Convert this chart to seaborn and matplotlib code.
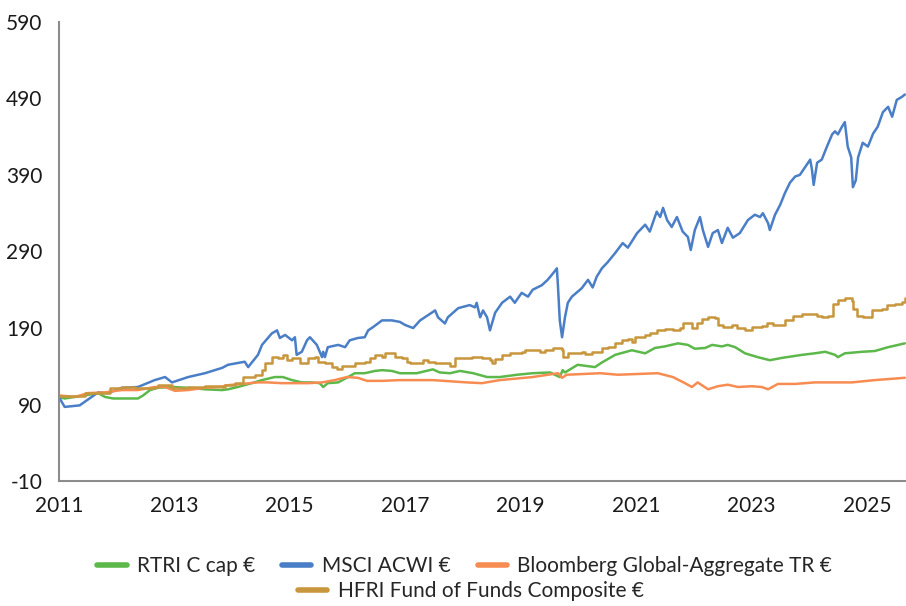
import seaborn as sns
import matplotlib.pyplot as plt
from matplotlib.lines import Line2D
import pandas as pd

# Lectura aproximada de la imagen (año decimal, valor base 100)
msci_x = [2011.00, 2011.10, 2011.36, 2011.68, 2011.85, 2012.09, 2012.37, 2012.66, 2012.84, 2012.96,
          2013.24, 2013.53, 2013.83, 2013.93, 2014.22, 2014.28, 2014.45, 2014.52, 2014.69, 2014.78,
          2014.83, 2014.92, 2015.04, 2015.09, 2015.12, 2015.21, 2015.30, 2015.35, 2015.47, 2015.56,
          2015.58, 2015.61, 2015.66, 2015.84, 2015.96, 2016.04, 2016.18, 2016.30, 2016.36, 2016.44,
          2016.60, 2016.77, 2016.91, 2017.00, 2017.14, 2017.26, 2017.40, 2017.52, 2017.57, 2017.69,
          2017.74, 2017.92, 2018.12, 2018.21, 2018.24, 2018.30, 2018.35, 2018.42, 2018.47, 2018.56,
          2018.68, 2018.82, 2018.90, 2019.02, 2019.13, 2019.21, 2019.37, 2019.47, 2019.58, 2019.63,
          2019.65, 2019.68, 2019.72, 2019.77, 2019.82, 2019.89, 2020.06, 2020.17, 2020.25, 2020.32,
          2020.41, 2020.51, 2020.64, 2020.77, 2020.86, 2021.02, 2021.16, 2021.24, 2021.36, 2021.42,
          2021.47, 2021.54, 2021.62, 2021.71, 2021.81, 2021.90, 2021.95, 2022.02, 2022.11, 2022.16,
          2022.25, 2022.33, 2022.42, 2022.49, 2022.59, 2022.68, 2022.80, 2022.94, 2023.06, 2023.15,
          2023.20, 2023.29, 2023.32, 2023.41, 2023.50, 2023.58, 2023.67, 2023.76, 2023.84, 2023.93,
          2024.02, 2024.05, 2024.08, 2024.14, 2024.22, 2024.31, 2024.40, 2024.45, 2024.50, 2024.57,
          2024.62, 2024.67, 2024.73, 2024.76, 2024.81, 2024.85, 2024.93, 2025.02, 2025.11, 2025.19,
          2025.28, 2025.37, 2025.44, 2025.52, 2025.61, 2025.66]
msci_y = [100, 87, 89, 106, 105, 112, 113, 122, 126, 119,
          126, 131, 138, 142, 146, 139, 155, 168, 183, 187,
          177, 181, 174, 178, 155, 159, 174, 178, 168, 152,
          159, 152, 165, 168, 165, 174, 177, 178, 187, 191,
          200, 200, 198, 194, 190, 200, 207, 213, 204, 196,
          204, 216, 220, 217, 223, 204, 213, 204, 187, 210,
          223, 231, 223, 236, 231, 240, 246, 253, 263, 268,
          243, 200, 178, 204, 223, 231, 242, 253, 243, 257,
          268, 276, 288, 301, 295, 314, 325, 316, 342, 335,
          347, 331, 322, 335, 316, 309, 292, 318, 335, 318,
          296, 314, 318, 301, 321, 308, 314, 331, 338, 335,
          340, 327, 318, 338, 351, 366, 380, 388, 390, 400,
          410, 397, 377, 406, 410, 427, 443, 447, 443, 453,
          459, 427, 413, 374, 383, 413, 432, 427, 444, 453,
          472, 479, 466, 488, 492, 495]

hfri_x = [2011.00, 2011.45, 2011.88, 2012.09, 2012.32, 2012.66, 2012.72, 2012.96, 2013.24, 2013.53,
          2013.83, 2013.88, 2014.05, 2014.19, 2014.40, 2014.52, 2014.57, 2014.69, 2014.80, 2014.88,
          2014.95, 2015.04, 2015.18, 2015.32, 2015.44, 2015.49, 2015.61, 2015.73, 2015.82, 2015.90,
          2016.13, 2016.30, 2016.39, 2016.48, 2016.60, 2016.65, 2016.82, 2016.94, 2017.03, 2017.08,
          2017.31, 2017.40, 2017.52, 2017.78, 2017.86, 2018.16, 2018.33, 2018.47, 2018.50, 2018.56,
          2018.68, 2018.82, 2019.02, 2019.08, 2019.34, 2019.42, 2019.56, 2019.72, 2019.73, 2019.82,
          2020.06, 2020.12, 2020.24, 2020.41, 2020.51, 2020.64, 2020.76, 2020.86, 2020.93, 2020.98,
          2021.16, 2021.24, 2021.36, 2021.50, 2021.64, 2021.76, 2021.81, 2021.97, 2022.06, 2022.14,
          2022.25, 2022.37, 2022.42, 2022.51, 2022.66, 2022.75, 2022.89, 2023.01, 2023.18, 2023.27,
          2023.37, 2023.58, 2023.72, 2023.88, 2024.02, 2024.14, 2024.22, 2024.33, 2024.41, 2024.50,
          2024.62, 2024.74, 2024.76, 2024.83, 2024.93, 2025.02, 2025.09, 2025.26, 2025.35, 2025.49,
          2025.61, 2025.66]
hfri_y = [101, 105, 112, 113, 112, 113, 115, 112, 113, 114,
          113, 115, 118, 126, 129, 135, 144, 152, 151, 155,
          148, 151, 144, 151, 152, 146, 144, 139, 136, 141,
          144, 146, 151, 155, 152, 157, 152, 151, 146, 144,
          148, 146, 144, 141, 151, 152, 151, 148, 144, 150,
          155, 158, 159, 161, 159, 161, 164, 161, 152, 158,
          159, 156, 159, 164, 165, 170, 174, 176, 172, 178,
          181, 183, 187, 189, 187, 190, 197, 190, 197, 202,
          204, 203, 194, 191, 194, 190, 187, 191, 193, 197,
          194, 200, 206, 208, 209, 206, 204, 206, 222, 226,
          229, 225, 215, 206, 205, 204, 213, 215, 220, 221,
          224, 229]

rtri_x = [2011.00, 2011.10, 2011.45, 2011.68, 2011.80, 2011.94, 2012.37, 2012.46, 2012.58, 2012.72,
          2012.96, 2013.24, 2013.53, 2013.83, 2013.93, 2014.10, 2014.34, 2014.52, 2014.74, 2014.88,
          2015.04, 2015.21, 2015.38, 2015.52, 2015.58, 2015.66, 2015.84, 2016.01, 2016.13, 2016.30,
          2016.48, 2016.60, 2016.77, 2016.91, 2017.20, 2017.48, 2017.60, 2017.78, 2017.95, 2018.18,
          2018.42, 2018.64, 2018.94, 2019.21, 2019.51, 2019.68, 2019.73, 2019.77, 2019.99, 2020.29,
          2020.41, 2020.64, 2020.93, 2021.16, 2021.33, 2021.50, 2021.73, 2021.90, 2022.02, 2022.20,
          2022.32, 2022.49, 2022.59, 2022.72, 2022.89, 2023.11, 2023.32, 2023.53, 2023.88, 2024.10,
          2024.28, 2024.45, 2024.50, 2024.62, 2024.92, 2025.14, 2025.37, 2025.66]
rtri_y = [100, 98, 102, 105, 100, 98, 98, 102, 109, 112,
          113, 112, 110, 109, 110, 113, 118, 122, 126, 126,
          122, 119, 119, 118, 113, 118, 119, 126, 131, 131,
          134, 135, 134, 131, 131, 136, 132, 131, 134, 131,
          126, 126, 129, 131, 132, 126, 135, 132, 142, 139,
          145, 155, 161, 157, 164, 166, 170, 168, 163, 164,
          168, 166, 168, 165, 157, 152, 148, 151, 155, 157,
          159, 155, 152, 157, 159, 160, 165, 170]

bbg_x = [2011.00, 2011.28, 2011.50, 2011.80, 2012.09, 2012.37, 2012.66, 2012.84, 2013.01, 2013.24,
         2013.53, 2013.83, 2013.88, 2014.17, 2014.45, 2014.62, 2014.86, 2015.09, 2015.32, 2015.56,
         2015.78, 2015.99, 2016.18, 2016.34, 2016.60, 2016.91, 2017.48, 2018.07, 2018.33, 2018.64,
         2019.21, 2019.65, 2019.72, 2019.80, 2020.38, 2020.69, 2021.03, 2021.38, 2021.64, 2021.85,
         2021.97, 2022.07, 2022.25, 2022.42, 2022.59, 2022.77, 2023.01, 2023.18, 2023.29, 2023.46,
         2023.76, 2024.10, 2024.40, 2024.74, 2025.14, 2025.66]
bbg_y = [102, 100, 105, 106, 109, 109, 113, 113, 108, 109,
         112, 113, 115, 117, 119, 119, 118, 118, 118, 119,
         122, 126, 125, 121, 121, 122, 122, 119, 118, 122,
         126, 131, 125, 129, 131, 129, 130, 131, 126, 118,
         113, 119, 110, 114, 116, 113, 114, 113, 110, 117,
         117, 119, 119, 119, 122, 125]

nombres = ['RTRI C cap €', 'MSCI ACWI €', 'Bloomberg Global-Aggregate TR €', 'HFRI Fund of Funds Composite €']
colores = ['#5cb84a', '#4a7ec6', '#f78c52', '#c8963c']
yticks = [-10, 90, 190, 290, 390, 490, 590]
xticks = [2011, 2013, 2015, 2017, 2019, 2021, 2023, 2025]

sns.set_style("white")
plt.rcParams['font.family'] = ['Lato', 'DejaVu Sans']
plt.rcParams['axes.unicode_minus'] = False

fig = plt.figure(figsize=(9.06, 6.06), dpi=100)
ax = fig.add_axes([0.065, 0.206, 0.935, 0.758])

series = [(rtri_x, rtri_y), (msci_x, msci_y), (bbg_x, bbg_y), (hfri_x, hfri_y)]
for i, (xs, ys) in enumerate(series):
    df = pd.DataFrame({'fecha': xs, 'valor': ys})
    estilo = 'steps-post' if i == 3 else 'default'
    sns.lineplot(data=df, x='fecha', y='valor', ax=ax, color=colores[i], linewidth=1.8,
                 drawstyle=estilo, label=nombres[i], legend=False)

ax.set_xlim(2011, 2025.68)
ax.set_ylim(-10, 590)
ax.set_yticks(yticks)
ax.set_xticks(xticks)
ax.set_xticklabels([str(t) for t in xticks])
ax.set_xlabel('')
ax.set_ylabel('')
ax.tick_params(axis='both', length=0, labelsize=15, colors='#1a1a1a')
ax.tick_params(axis='x', pad=11)
ax.tick_params(axis='y', pad=12)
for s in ['top', 'right']:
    ax.spines[s].set_visible(False)
for s in ['left', 'bottom']:
    ax.spines[s].set_color('#8c8c8c')
    ax.spines[s].set_linewidth(1.5)

handles = [Line2D([0], [0], color=c, linewidth=4) for c in colores]
fig.legend(handles[:3], nombres[:3], loc='center', bbox_to_anchor=(0.513, 1 - 566 / 606), ncol=3,
           frameon=False, fontsize=15, handlelength=1.4, handletextpad=0.5, columnspacing=1.3)
fig.legend(handles[3:], nombres[3:], loc='center', bbox_to_anchor=(0.52, 1 - 591 / 606), ncol=1,
           frameon=False, fontsize=15, handlelength=1.4, handletextpad=0.5)

fig.savefig('out.png', dpi=100)
